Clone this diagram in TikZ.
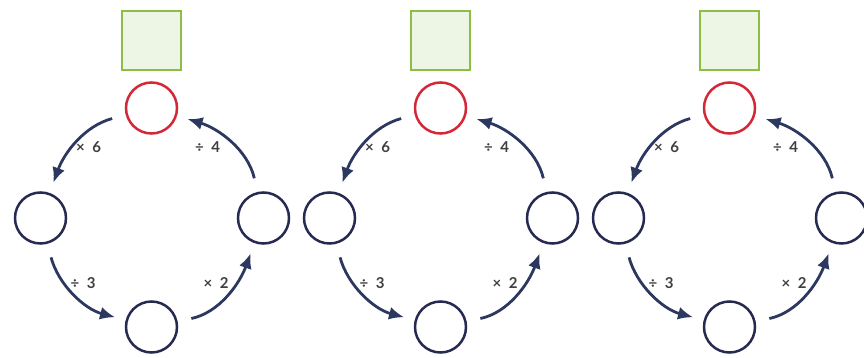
\documentclass[tikz,border=0pt]{standalone}
\usepackage{fontspec}
\setmainfont{Lato}
\usetikzlibrary{arrows.meta}

\definecolor{ringnavy}{RGB}{38,42,80}
\definecolor{topred}{RGB}{210,40,55}
\definecolor{boxgreen}{RGB}{140,190,70}
\definecolor{boxfill}{RGB}{237,245,228}
\definecolor{arrnavy}{RGB}{44,56,96}
\definecolor{lblgray}{RGB}{62,62,62}

\begin{document}
\begin{tikzpicture}[x=1pt,y=1pt,
	ring/.style={circle,draw=ringnavy,line width=2.5pt,minimum size=51pt,inner sep=0pt},
	topring/.style={ring,draw=topred},
	box/.style={rectangle,draw=boxgreen,fill=boxfill,line width=2pt,minimum size=59pt,inner sep=0pt},
	arr/.style={draw=arrnavy,line width=2.8pt,-{Latex[length=15pt,width=13pt]},shorten <=14pt,shorten >=11pt},
	op/.style={text=lblgray,font=\fontsize{15}{17}\selectfont\bfseries,inner sep=0pt}]
	
	\useasboundingbox (0,0) rectangle (864,-358);
	
	\foreach \i/\dx in {1/0,2/289,3/578}{
	\begin{scope}[xshift=\dx pt]
		% answer box and the four stops of the cycle
		\node[box] (b\i) at (151.5,-40.5) {};
		\node[topring] (t\i) at (151.5,-108) {};
		\node[ring] (l\i) at (40.5,-218) {};
		\node[ring] (r\i) at (263.5,-218) {};
		\node[ring] (d\i) at (151.5,-327) {};
		
		\draw[arr] (t\i) to[out=195,in=70] (l\i);
		\draw[arr] (l\i) to[out=285,in=165] (d\i);
		\draw[arr] (d\i) to[out=12,in=250] (r\i);
		\draw[arr] (r\i) to[out=103,in=343] (t\i);
		
		\node[op] (m6\i) at (88.5,-147.5) {×\enspace6};
		\node[op] (d4\i) at (207.5,-147.5) {÷\enspace4};
		\node[op] (d3\i) at (83,-283) {÷\enspace3};
		\node[op] (m2\i) at (216,-283) {×\enspace2};
	\end{scope}
	}
	
\end{tikzpicture}
\end{document}
